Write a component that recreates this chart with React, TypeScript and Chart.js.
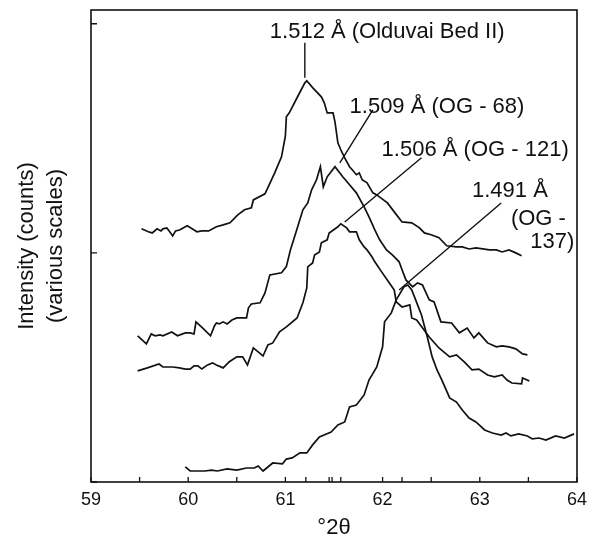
import React, { useEffect, useRef } from "react";
import { Chart, registerables } from "chart.js";

Chart.register(...registerables);

const FONT = '"Liberation Sans", Arial, Helvetica, sans-serif';
const INK = "#111111";

// Olduvai Bed II (1.512 Å)
const oldX = [59.52, 59.59, 59.63, 59.68, 59.72, 59.74, 59.78, 59.81, 59.84, 59.87, 59.91, 59.99, 60.04, 60.09, 60.14, 60.21, 60.29, 60.36, 60.43, 60.51, 60.58, 60.65, 60.67, 60.79, 60.89, 60.96, 61.0, 61.01, 61.04, 61.12, 61.2, 61.22, 61.28, 61.37, 61.4, 61.43, 61.49, 61.51, 61.54, 61.57, 61.61, 61.66, 61.69, 61.73, 61.76, 61.79, 61.84, 61.9, 61.94, 62.05, 62.12, 62.2, 62.3, 62.38, 62.43, 62.5, 62.58, 62.66, 62.76, 62.82, 62.89, 62.96, 63.1, 63.17, 63.23, 63.3, 63.37, 63.43];
const oldY = [110.5, 109.2, 108.7, 110.5, 109.6, 110.5, 110.9, 109.2, 107.4, 109.6, 110.0, 111.8, 110.5, 109.2, 109.6, 109.6, 111.4, 112.2, 113.1, 116.6, 118.8, 119.7, 123.1, 125.8, 134.9, 141.9, 151.1, 159.4, 161.1, 167.7, 174.2, 175.1, 172.1, 168.1, 165.5, 161.1, 161.1, 157.2, 148.0, 145.0, 141.5, 137.6, 136.2, 134.1, 134.9, 131.9, 130.6, 126.2, 125.3, 121.8, 117.9, 113.5, 113.1, 110.9, 108.7, 107.9, 106.6, 103.1, 102.6, 102.6, 101.7, 102.2, 101.3, 101.3, 100.4, 101.3, 100.0, 98.7];

// OG - 68 (1.509 Å)
const og68X = [59.48, 59.57, 59.62, 59.66, 59.71, 59.74, 59.83, 59.89, 59.97, 60.02, 60.06, 60.08, 60.15, 60.23, 60.27, 60.29, 60.32, 60.36, 60.4, 60.45, 60.5, 60.6, 60.62, 60.65, 60.74, 60.79, 60.84, 60.96, 61.01, 61.05, 61.12, 61.18, 61.23, 61.27, 61.32, 61.36, 61.39, 61.43, 61.51, 61.59, 61.66, 61.73, 61.81, 61.86, 61.92, 61.97, 62.04, 62.1, 62.17, 62.2, 62.24, 62.31, 62.36, 62.41, 62.48, 62.53, 62.6, 62.71, 62.79, 62.87, 62.94, 62.99, 63.08, 63.17, 63.23, 63.3, 63.37, 63.44, 63.49];
const og68Y = [63.8, 60.3, 64.6, 63.8, 64.2, 63.8, 65.5, 63.8, 65.1, 65.1, 64.6, 69.9, 67.2, 63.8, 68.1, 69.4, 69.0, 69.9, 69.0, 70.7, 71.6, 71.6, 76.0, 77.7, 78.2, 82.5, 90.4, 91.3, 94.0, 101.0, 110.5, 118.8, 121.8, 127.5, 131.9, 137.6, 128.8, 133.2, 137.6, 133.2, 129.7, 126.2, 120.1, 115.7, 110.0, 105.7, 101.3, 99.1, 96.1, 92.6, 88.2, 85.2, 86.9, 86.0, 79.5, 78.6, 69.9, 69.4, 65.1, 67.2, 62.9, 65.1, 60.7, 59.0, 59.4, 59.0, 58.1, 55.9, 55.5];

// OG - 121 (1.506 Å)
const og121X = [59.48, 59.58, 59.7, 59.74, 59.84, 59.91, 59.97, 60.02, 60.06, 60.1, 60.14, 60.2, 60.25, 60.29, 60.36, 60.42, 60.5, 60.56, 60.61, 60.67, 60.77, 60.82, 60.87, 60.94, 61.01, 61.12, 61.18, 61.22, 61.23, 61.28, 61.3, 61.35, 61.37, 61.43, 61.45, 61.54, 61.57, 61.63, 61.66, 61.73, 61.76, 61.81, 61.84, 61.89, 61.92, 61.99, 62.07, 62.12, 62.14, 62.2, 62.28, 62.3, 62.35, 62.48, 62.58, 62.69, 62.76, 62.84, 62.92, 62.99, 63.08, 63.15, 63.23, 63.28, 63.33, 63.43, 63.44, 63.51];
const og121Y = [48.5, 49.8, 51.5, 50.2, 50.2, 49.8, 49.3, 49.3, 50.7, 50.7, 49.3, 51.1, 52.0, 51.1, 49.8, 52.4, 54.6, 54.6, 51.1, 58.5, 55.0, 59.8, 60.7, 65.5, 67.7, 71.6, 78.2, 84.7, 93.9, 95.6, 99.1, 100.4, 104.4, 105.7, 108.7, 111.4, 112.7, 110.9, 109.2, 109.2, 105.7, 102.6, 101.3, 98.3, 96.1, 91.7, 86.9, 83.8, 78.6, 76.4, 77.3, 71.6, 70.7, 63.3, 58.5, 54.6, 55.5, 52.4, 48.9, 49.3, 46.7, 45.9, 46.7, 44.5, 43.2, 42.8, 45.4, 44.1];

// OG - 137 (1.491 Å)
const og137X = [59.97, 60.02, 60.12, 60.17, 60.24, 60.3, 60.4, 60.5, 60.6, 60.68, 60.72, 60.77, 60.87, 60.97, 61.01, 61.07, 61.15, 61.22, 61.28, 61.35, 61.47, 61.54, 61.61, 61.64, 61.66, 61.73, 61.81, 61.86, 61.94, 62.0, 62.02, 62.09, 62.14, 62.22, 62.26, 62.3, 62.34, 62.4, 62.46, 62.51, 62.56, 62.61, 62.69, 62.76, 62.82, 62.89, 62.96, 63.05, 63.13, 63.22, 63.27, 63.32, 63.4, 63.49, 63.54, 63.61, 63.68, 63.78, 63.87, 63.97];
const og137Y = [6.6, 4.8, 4.8, 4.8, 5.2, 4.8, 5.7, 5.2, 6.1, 6.1, 7.0, 4.8, 8.3, 7.9, 10.0, 10.5, 12.7, 12.7, 16.2, 19.7, 21.8, 24.9, 26.2, 30.1, 32.8, 33.6, 38.0, 44.5, 50.2, 59.0, 69.9, 73.8, 79.5, 85.2, 86.0, 83.8, 79.5, 72.9, 63.3, 54.6, 48.9, 44.5, 36.7, 34.9, 31.4, 27.9, 26.2, 22.7, 21.4, 20.5, 21.4, 20.1, 21.0, 20.1, 18.8, 19.2, 18.3, 20.1, 19.2, 21.0];

// axis ticks
const xMajorTicks = [59, 60, 61, 62, 63, 64];
const xMinorTicks = [59.5, 60.5, 61.21, 61.45, 61.48, 61.57, 62.2, 62.5, 63.5];
const yTicks = [0, 100, 200];

// annotations (data coordinates)
const labelTexts = ["1.512 Å (Olduvai Bed II)", "1.509 Å (OG - 68)", "1.506 Å (OG - 121)", "1.491 Å", "(OG -", "137)"];
const labelX = [60.84, 61.66, 61.99, 62.92, 63.32, 63.52];
const labelY = [193.9, 161.1, 142.4, 124.5, 112.2, 102.2];

const leaderX1 = [61.2, 61.9, 62.4, 63.22];
const leaderY1 = [191.7, 162.4, 141.5, 121.8];
const leaderX2 = [61.2, 61.56, 61.61, 62.17];
const leaderY2 = [176.4, 139.3, 113.5, 83.8];

const seriesX = [oldX, og68X, og121X, og137X];
const seriesY = [oldY, og68Y, og121Y, og137Y];

const overlay = {
  id: "overlay",
  afterDatasetsDraw(chart: any) {
    const { ctx, chartArea: ca } = chart;
    const xs = chart.scales.x;
    const ys = chart.scales.y;
    ctx.save();
    ctx.strokeStyle = INK;
    ctx.lineWidth = 1.6;
    ctx.strokeRect(ca.left, ca.top, ca.right - ca.left, ca.bottom - ca.top);

    ctx.lineWidth = 1.3;
    ctx.beginPath();
    [...xMajorTicks, ...xMinorTicks].forEach((v) => {
      const px = xs.getPixelForValue(v);
      ctx.moveTo(px, ca.bottom);
      ctx.lineTo(px, ca.bottom - 5);
    });
    yTicks.forEach((v) => {
      const py = ys.getPixelForValue(v);
      ctx.moveTo(ca.left, py);
      ctx.lineTo(ca.left + 6, py);
    });
    ctx.stroke();

    ctx.lineWidth = 1.4;
    ctx.beginPath();
    leaderX1.forEach((_, i) => {
      ctx.moveTo(xs.getPixelForValue(leaderX1[i]), ys.getPixelForValue(leaderY1[i]));
      ctx.lineTo(xs.getPixelForValue(leaderX2[i]), ys.getPixelForValue(leaderY2[i]));
    });
    ctx.stroke();

    ctx.fillStyle = INK;
    ctx.font = `22px ${FONT}`;
    ctx.textAlign = "left";
    ctx.textBaseline = "alphabetic";
    labelTexts.forEach((t, i) => {
      ctx.fillText(t, xs.getPixelForValue(labelX[i]), ys.getPixelForValue(labelY[i]));
    });
    ctx.restore();
  },
};

export default function App() {
  const ref = useRef<HTMLCanvasElement>(null);
  useEffect(() => {
    if (!ref.current) return;
    Chart.defaults.font.family = FONT;
    const chart = new Chart(ref.current, {
      type: "scatter",
      data: {
        datasets: seriesX.map((xsArr, k) => ({
          data: xsArr.map((v, i) => ({ x: v, y: seriesY[k][i] })),
          showLine: true,
          borderColor: INK,
          backgroundColor: INK,
          borderWidth: 1.7,
          pointRadius: 0,
          tension: 0,
          fill: false,
        })),
      },
      options: {
        animation: false,
        responsive: false,
        devicePixelRatio: 1,
        layout: { padding: { top: 10, right: 16, left: 0, bottom: 0 } },
        plugins: { legend: { display: false }, tooltip: { enabled: false } },
        scales: {
          x: {
            type: "linear",
            min: 59,
            max: 64,
            ticks: { stepSize: 1, color: INK, font: { size: 18, family: FONT }, padding: 7 },
            grid: { display: false, drawTicks: false },
            border: { display: false },
            title: {
              display: true,
              text: "°2θ",
              color: INK,
              font: { size: 22, family: FONT, lineHeight: 1 },
              padding: { top: 0, bottom: -2 },
            },
            afterFit: (s: any) => {
              s.height = 55;
            },
          },
          y: {
            type: "linear",
            min: 0,
            max: 206,
            ticks: { display: false },
            grid: { display: false, drawTicks: false },
            border: { display: false },
            title: {
              display: true,
              text: ["Intensity (counts)", "(various scales)"],
              color: INK,
              font: { size: 22, family: FONT, lineHeight: "29px" },
              padding: { top: 12.5, bottom: 0 },
            },
            afterFit: (s: any) => {
              s.width = 91;
            },
          },
        },
      },
      plugins: [overlay],
    } as any);
    return () => chart.destroy();
  }, []);
  return (
    <div style={{ position: "fixed", left: 0, top: 0, width: 594, height: 537, background: "#fff" }}>
      <canvas ref={ref} width={594} height={537} style={{ display: "block", width: 594, height: 537 }} />
    </div>
  );
}
